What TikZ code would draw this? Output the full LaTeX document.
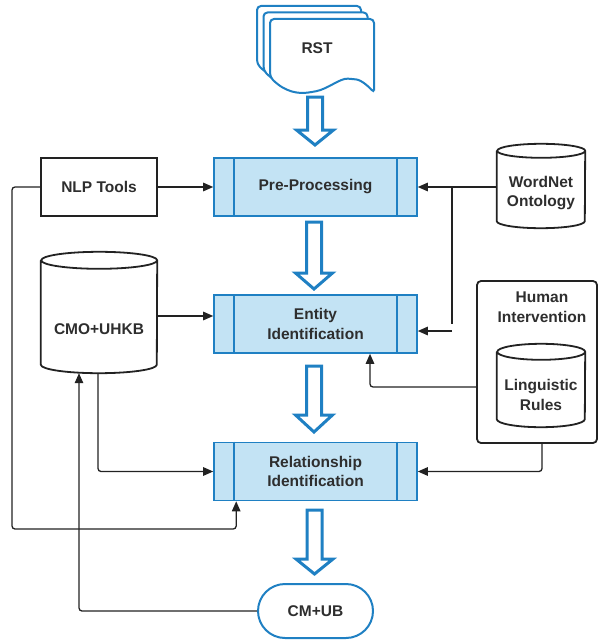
\documentclass[tikz,border=0pt]{standalone}
\usepackage{fontspec}
\setmainfont{Liberation Sans}
\usetikzlibrary{arrows.meta}
\definecolor{bblue}{HTML}{1F80C3}
\definecolor{lblue}{HTML}{C3E3F4}
\definecolor{txt}{HTML}{2E2E2E}
\definecolor{lin}{HTML}{222222}
\newcommand\hollowarr[4]{%
  \draw[hollow] (#1-7.5,#2) -- (#1+7.5,#2) -- (#1+7.5,#3) -- (#1+18.5,#3) -- (#1,#4) -- (#1-18.5,#3) -- (#1-7.5,#3) -- cycle;}
\newcommand\drawcyl[3]{%
  \draw[cylline] ([yshift=-#3]#1.north west) -- ([yshift=#3]#1.south west)
    arc[start angle=180,end angle=360,x radius=#2,y radius=#3]
    -- ([yshift=-#3]#1.north east)
    arc[start angle=0,end angle=180,x radius=#2,y radius=#3]
    arc[start angle=180,end angle=360,x radius=#2,y radius=#3];}
\begin{document}
\begin{tikzpicture}[x=1pt,y=-1pt,
  font=\fontsize{15.5}{19.5}\selectfont\bfseries, text=txt,
  proc/.style={rectangle, draw=bblue, fill=lblue, line width=1.6pt, minimum width=203pt, minimum height=58pt, align=center, inner sep=0pt},
  innerline/.style={draw=bblue, line width=1.6pt},
  hollow/.style={draw=bblue, fill=white, line width=3pt, miter limit=10},
  page/.style={draw=bblue, fill=white, line width=2pt, rounded corners=4pt},
  conn/.style={draw=lin, line width=1.3pt, rounded corners=3pt, -{Triangle[length=10pt,width=8.5pt]}},
  cylbox/.style={rectangle, draw=none, inner sep=0pt},
  cylline/.style={draw=lin, fill=white, line width=1.8pt},
  lbl/.style={align=center, inner sep=0pt},
  nlpbox/.style={rectangle, draw=lin, fill=white, line width=2.4pt, minimum width=116pt, minimum height=58pt, inner sep=0pt},
  hibox/.style={rectangle, draw=lin, fill=white, line width=1.8pt, rounded corners=4pt, inner sep=0pt},
  term/.style={rectangle, draw=bblue, fill=white, line width=2pt, rounded corners=27pt, minimum width=115pt, minimum height=54pt, inner sep=0pt}
]
\useasboundingbox (0,0) rectangle (598,642);
% RST document stack
\foreach \s in {13,6.5,0}{
  \draw[page, shift={(-\s,-\s)}] (374,93) -- (374,19) -- (270,19) -- (270,77)
    .. controls (285,92) and (298,94) .. (312,92)
    .. controls (328,89) and (340,78) .. (352,79)
    .. controls (362,80) and (370,88) .. (374,93) -- cycle;
}
\node[lbl] (rst) at (317,48) {RST};
% process boxes
\node[proc] (pp) at (315.5,187) {Pre-Processing};
\node[proc] (ent) at (315.5,324) {Entity\\Identification};
\node[proc] (rel) at (315.5,471.5) {Relationship\\Identification};
\foreach \n in {pp,ent,rel}{
  \draw[innerline] ([xshift=21pt]\n.north west) -- ([xshift=21pt]\n.south west);
  \draw[innerline] ([xshift=-21pt]\n.north east) -- ([xshift=-21pt]\n.south east);
}
% hollow arrows
\hollowarr{315}{97}{130}{145}
\hollowarr{314}{222}{273}{289}
\hollowarr{314}{366}{415}{432}
\hollowarr{314.5}{510}{559}{574}
% terminal
\node[term] (cm) at (315.5,611) {CM+UB};
% NLP tools
\node[nlpbox] (nlp) at (99,187) {NLP Tools};
% CMO+UHKB
\node[cylbox, minimum width=116pt, minimum height=121pt] (cmo) at (99,312.5) {};
\drawcyl{cmo}{58pt}{8.5pt}
\node[lbl] (cmot) at (99,329) {CMO+UHKB};
% WordNet
\node[cylbox, minimum width=88pt, minimum height=84pt] (wn) at (541,186) {};
\drawcyl{wn}{44pt}{7pt}
\node[lbl] (wnt) at (541,193) {WordNet\\Ontology};
% Human Intervention
\node[hibox, minimum width=120pt, minimum height=162pt] (hi) at (537,362) {};
\node[lbl] (hit) at (542,307) {Human\\Intervention};
\node[cylbox, minimum width=88pt, minimum height=83pt] (lr) at (541,385.5) {};
\drawcyl{lr}{44pt}{8pt}
\node[lbl] (lrt) at (541,395) {Linguistic\\Rules};
% connectors
\coordinate (nl) at (12,529);
\coordinate (r237) at ([xshift=23pt]rel.south west);
\coordinate (br) at (452,187);
\coordinate (lk) at (370,387);
\coordinate (hk) at (542,472);
\coordinate (ck) at (79,611);
\draw[conn] (nlp.east) -- (pp.west);
\draw[conn] (nlp.west) -- (nlp.west -| nl) -- (nl) -- (nl -| r237) -- (r237);
\draw[conn] (wn.west |- pp.east) -- (pp.east);
\draw[conn] (br) -- (br |- ent.east) ++(0,7) -- ([yshift=-7pt]ent.east);
\draw[conn] ([yshift=-3.5pt]cmo.east) -- ([yshift=-3.5pt]cmo.east -| ent.west);
\draw[conn] ([xshift=-1pt]cmo.south) -- ([xshift=-1pt]cmo.south |- rel.west) -- (rel.west);
\draw[conn] (cm.west) -- (ck) -- ([xshift=-20pt]cmo.south);
\draw[conn] (hi.west |- lk) -- (lk) -- (lk |- ent.south);
\draw[conn] (hi.south -| hk) -- (hk |- rel.east) -- (rel.east);
\end{tikzpicture}
\end{document}
